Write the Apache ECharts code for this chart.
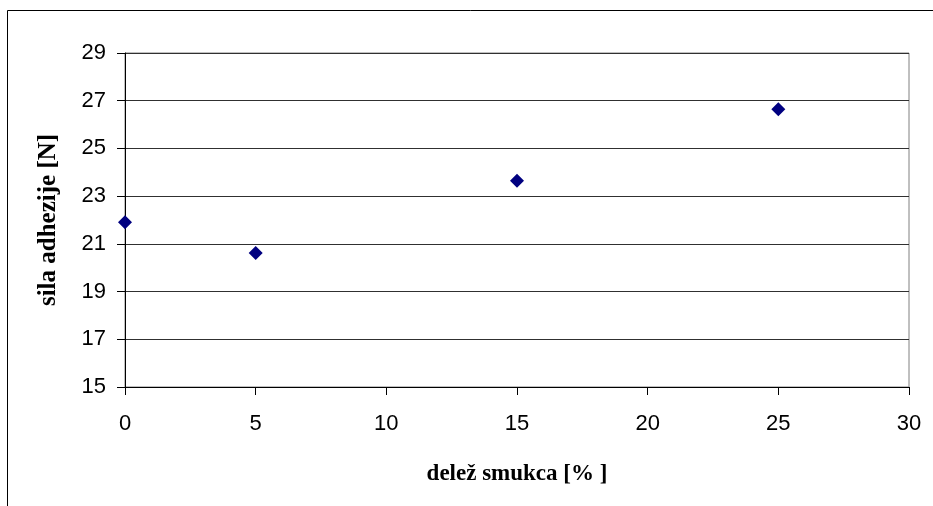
<!DOCTYPE html>
<html>
<head>
<meta charset="utf-8">
<script src="https://cdn.jsdelivr.net/npm/echarts@6/dist/echarts.min.js"></script>
<style>
html,body{margin:0;padding:0;background:#fff;}
#chart{width:933px;height:506px;}
</style>
</head>
<body>
<div id="chart"></div>
<script>
const xValues = [0, 5, 15, 25];
const yValues = [21.91, 20.62, 23.64, 26.64];
const xTitle = 'delež smukca [% ]';
const yTitle = 'sila adhezije [N]';

const chart = echarts.init(document.getElementById('chart'));
chart.setOption({
  animation: false,
  backgroundColor: '#fff',
  graphic: [{
    type: 'rect',
    shape: {x: 7.5, y: 10.5, width: 1000, height: 600},
    style: {fill: 'none', stroke: '#000', lineWidth: 1},
    silent: true
  }],
  grid: {left: 125, top: 53, right: 24, bottom: 119, show: true, borderColor: '#808080', borderWidth: 1, backgroundColor: 'transparent'},
  xAxis: {
    type: 'value', min: 0, max: 30, interval: 5,
    name: xTitle, nameLocation: 'middle', nameGap: 76,
    nameTextStyle: {fontFamily: 'Liberation Serif', fontWeight: 'bold', fontSize: 23, color: '#000'},
    axisLine: {show: true, lineStyle: {color: '#000', width: 1}},
    axisTick: {show: true, inside: false, length: 8, lineStyle: {color: '#000'}},
    axisLabel: {fontFamily: 'Liberation Sans', fontSize: 22, color: '#000', margin: 26},
    splitLine: {show: false}
  },
  yAxis: {
    type: 'value', min: 15, max: 29, interval: 2,
    name: yTitle, nameLocation: 'middle', nameGap: 64, nameRotate: 90,
    nameTextStyle: {fontFamily: 'Liberation Serif', fontWeight: 'bold', fontSize: 25, color: '#000'},
    axisLine: {show: true, lineStyle: {color: '#000', width: 1}},
    axisTick: {show: true, inside: false, length: 8, lineStyle: {color: '#000'}},
    axisLabel: {fontFamily: 'Liberation Sans', fontSize: 22, color: '#000', margin: 19},
    splitLine: {show: true, lineStyle: {color: '#303030', width: 1}}
  },
  series: [{
    type: 'scatter',
    data: xValues.map((x, i) => [x, yValues[i]]),
    symbol: 'diamond',
    symbolSize: 14,
    itemStyle: {color: '#000080', opacity: 1}
  }]
});
</script>
</body>
</html>
